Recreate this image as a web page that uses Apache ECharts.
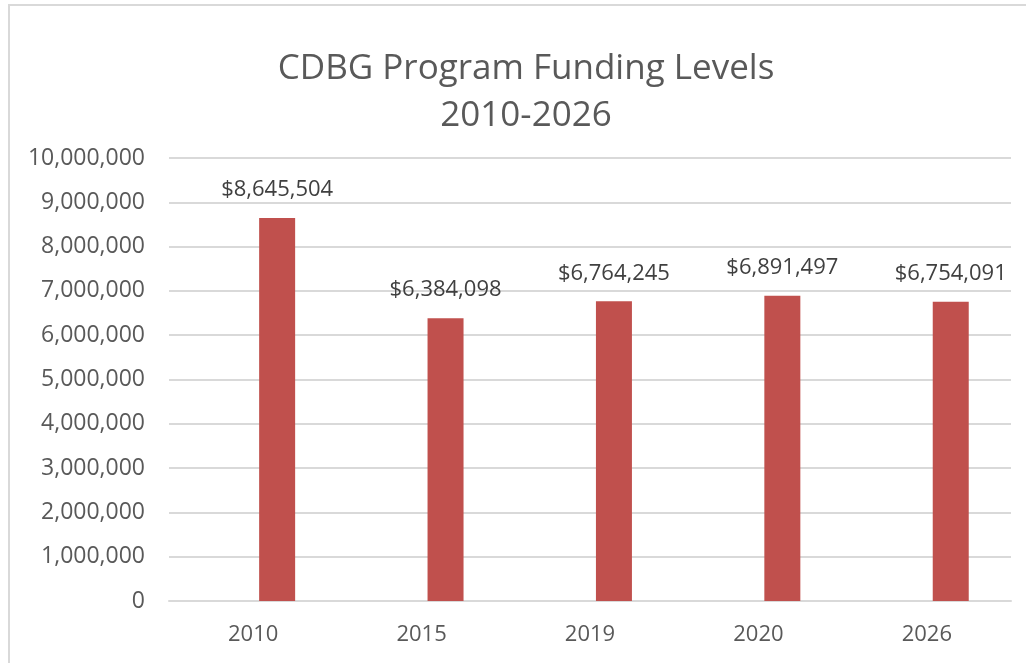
<!DOCTYPE html>
<html>
<head>
<meta charset="utf-8">
<script src="https://cdn.jsdelivr.net/npm/echarts@6/dist/echarts.min.js"></script>
<style>
  html, body { margin: 0; padding: 0; background: #fff; }
  #chart { width: 1026px; height: 663px; }
</style>
</head>
<body>
<div id="chart"></div>
<script>
const years = ['2010', '2015', '2019', '2020', '2026']
const funding = [8645504, 6384098, 6764245, 6891497, 6754091]
const yTicks = { min: 0, max: 10000000, interval: 1000000 }

const chart = echarts.init(document.getElementById('chart'))

const fmt = n => n.toLocaleString('en-US')

const option = {
  animation: false,
  textStyle: { fontFamily: 'Open Sans' },
  title: {
    text: 'CDBG Program Funding Levels\n2010-2026',
    left: 521,
    top: 41,
    textAlign: 'center',
    textStyle: {
      fontFamily: 'Open Sans',
      fontWeight: 'normal',
      fontSize: 35,
      lineHeight: 47,
      color: '#595959'
    }
  },
  graphic: [
    {
      type: 'rect',
      shape: { x: 9, y: 5, width: 1100, height: 700 },
      style: { fill: 'none', stroke: '#d9d9d9', lineWidth: 2 },
      silent: true
    }
  ],
  grid: { left: 169, right: 15, top: 158, bottom: 62 },
  xAxis: {
    type: 'category',
    data: years,
    axisTick: { show: false },
    axisLine: { lineStyle: { color: '#d9d9d9', width: 2 } },
    axisLabel: { color: '#595959', fontSize: 22, margin: 23 }
  },
  yAxis: {
    type: 'value',
    min: yTicks.min,
    max: yTicks.max,
    interval: yTicks.interval,
    axisLine: { show: false },
    axisTick: { show: false },
    splitLine: { lineStyle: { color: '#d9d9d9', width: 2 } },
    axisLabel: {
      color: '#595959',
      fontSize: 23,
      margin: 24,
      formatter: v => fmt(v)
    }
  },
  series: [
    // empty slot series, keeps the bars offset like the original
    { name: '', type: 'bar', data: [], barWidth: 36, barGap: '33%' },
    {
      name: 'Funding',
      type: 'bar',
      data: funding,
      barWidth: 36,
      barGap: '33%',
      itemStyle: { color: '#c0504d' },
      label: {
        show: true,
        position: 'top',
        distance: 17,
        color: '#404040',
        fontSize: 22,
        formatter: p => '$' + fmt(p.value)
      }
    }
  ]
}

chart.setOption(option)
</script>
</body>
</html>
